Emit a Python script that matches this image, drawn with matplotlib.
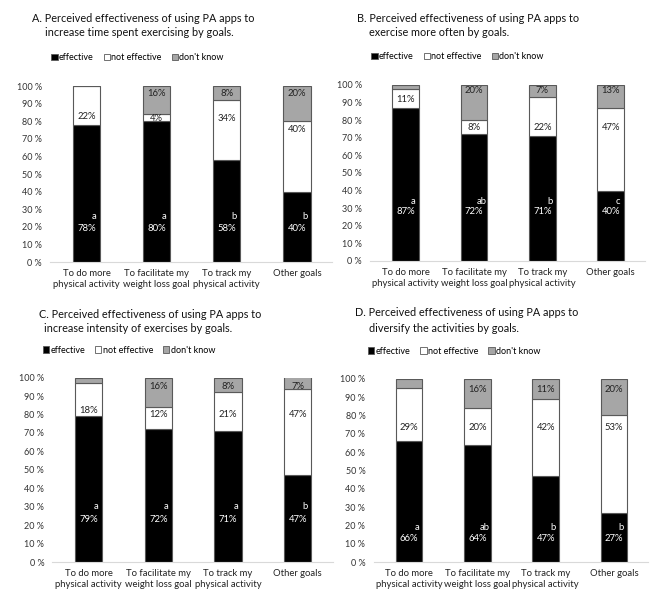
import matplotlib
matplotlib.use("Agg")
import matplotlib.pyplot as plt
from matplotlib.patches import Patch

plt.rcParams['font.family'] = ['Lato', 'DejaVu Sans']

categories = ["To do more\nphysical activity", "To facilitate my\nweight loss goal",
              "To track my\nphysical activity", "Other goals"]
series_names = ["effective", "not effective", "don't know"]
y_ticks = [0, 10, 20, 30, 40, 50, 60, 70, 80, 90, 100]

# Panel A
a_effective = [78, 80, 58, 40]
a_not_effective = [22, 4, 34, 40]
a_dont_know = [0, 16, 8, 20]
a_letters = ["a", "a", "b", "b"]
a_title = ["A. Perceived effectiveness of using PA apps to",
           "increase time spent exercising by goals."]

# Panel B
b_effective = [87, 72, 71, 40]
b_not_effective = [11, 8, 22, 47]
b_dont_know = [2, 20, 7, 13]
b_letters = ["a", "ab", "b", "c"]
b_title = ["B. Perceived effectiveness of using PA apps to",
           "exercise more often by goals."]

# Panel C
c_effective = [79, 72, 71, 47]
c_not_effective = [18, 12, 21, 47]
c_dont_know = [3, 16, 8, 7]
c_letters = ["a", "a", "a", "b"]
c_title = ["C. Perceived effectiveness of using PA apps to",
           "increase intensity of exercises by goals."]

# Panel D
d_effective = [66, 64, 47, 27]
d_not_effective = [29, 20, 42, 53]
d_dont_know = [5, 16, 11, 20]
d_letters = ["a", "ab", "b", "b"]
d_title = ["D. Perceived effectiveness of using PA apps to",
           "diversify the activities by goals."]

W, H = 665, 606
fig = plt.figure(figsize=(W / 100, H / 100), dpi=100)

BLACK = "#000000"
WHITE = "#ffffff"
GRAY = "#a6a6a6"
EDGE = "#595959"


def px_box(l, t, r, b):
    return [l / W, 1 - b / H, (r - l) / W, (b - t) / H]


panels = [
    dict(eff=a_effective, ne=a_not_effective, dk=a_dont_know, letters=a_letters, title=a_title,
         box=px_box(50, 86, 332, 262), t1=(32, 19), t2=(45, 32),
         leg=(0.005, 1.16), eff_y=19, let_y=25.6, ne_y=[82.5, 81.6, 81.3, 75], dk_y=96),
    dict(eff=b_effective, ne=b_not_effective, dk=b_dont_know, letters=b_letters, title=b_title,
         box=px_box(370, 85, 645, 261), t1=(357, 19), t2=(369, 33),
         leg=(0.005, 1.16), eff_y=28, let_y=34, ne_y=[92, 75.7, 75.7, 75.7], dk_y=97),
    dict(eff=c_effective, ne=c_not_effective, dk=c_dont_know, letters=c_letters, title=c_title,
         box=px_box(52.5, 377.7, 332.5, 562), t1=(39, 315), t2=(44, 328),
         leg=(-0.035, 1.15), eff_y=23, let_y=30, ne_y=[82, 80, 80, 80], dk_y=95),
    dict(eff=d_effective, ne=d_not_effective, dk=d_dont_know, letters=d_letters, title=d_title,
         box=px_box(373.6, 378.7, 648, 562), t1=(355, 313), t2=(369, 328),
         leg=(-0.02, 1.15), eff_y=13, let_y=19, ne_y=[73.5, 73.5, 73.5, 73.5], dk_y=94),
]

x = list(range(len(categories)))
bw = 0.39

for p in panels:
    ax = fig.add_axes(p["box"])
    eff, ne, dk = p["eff"], p["ne"], p["dk"]
    bottom2 = eff
    bottom3 = [e + n for e, n in zip(eff, ne)]
    ax.bar(x, eff, bw, color=BLACK, edgecolor=EDGE, linewidth=0.8, label=series_names[0])
    ax.bar(x, ne, bw, bottom=bottom2, color=WHITE, edgecolor=EDGE, linewidth=0.8, label=series_names[1])
    ax.bar(x, dk, bw, bottom=bottom3, color=GRAY, edgecolor=EDGE, linewidth=0.8, label=series_names[2])

    for i in x:
        ax.text(i, p["eff_y"], f"{eff[i]}%", color="white", ha="center", va="center", fontsize=6.8)
        ax.text(i + 0.11, p["let_y"], p["letters"][i], color="white", ha="center", va="center", fontsize=6.8)
        ax.text(i, p["ne_y"][i], f"{ne[i]}%", color="#222222", ha="center", va="center", fontsize=6.8)
        if dk[i] >= 7:
            ax.text(i, p["dk_y"], f"{dk[i]}%", color="#222222", ha="center", va="center", fontsize=6.8)

    ax.set_xlim(-0.52, 3.5)
    ax.set_ylim(0, 100)
    ax.set_yticks(y_ticks)
    ax.set_yticklabels([f"{v} %" for v in y_ticks], fontsize=6.5, color="#333333")
    ax.set_xticks(x)
    ax.set_xticklabels(categories, fontsize=6.8, color="#222222", linespacing=1.3)
    ax.tick_params(axis="both", length=0)
    ax.tick_params(axis="y", pad=6)
    ax.tick_params(axis="x", pad=5)
    for s in ["top", "right", "left"]:
        ax.spines[s].set_visible(False)
    ax.spines["bottom"].set_color("#d9d9d9")
    ax.spines["bottom"].set_linewidth(0.8)

    handles = [Patch(facecolor=BLACK, edgecolor=EDGE, linewidth=0.6),
               Patch(facecolor=WHITE, edgecolor=EDGE, linewidth=0.6),
               Patch(facecolor=GRAY, edgecolor=EDGE, linewidth=0.6)]
    ax.legend(handles, series_names, loc="center left", bbox_to_anchor=p["leg"], ncol=3,
              frameon=False, fontsize=6.5, handlelength=0.7, handleheight=0.7,
              handletextpad=0.15, columnspacing=1.1, borderaxespad=0, borderpad=0)

    (x1, y1), (x2, y2) = p["t1"], p["t2"]
    fig.text(x1 / W, 1 - y1 / H, p["title"][0], fontsize=7.8, ha="left", va="center", color="#111111")
    fig.text(x2 / W, 1 - y2 / H, p["title"][1], fontsize=7.8, ha="left", va="center", color="#111111")

fig.savefig("out.png", dpi=100, facecolor="white")
